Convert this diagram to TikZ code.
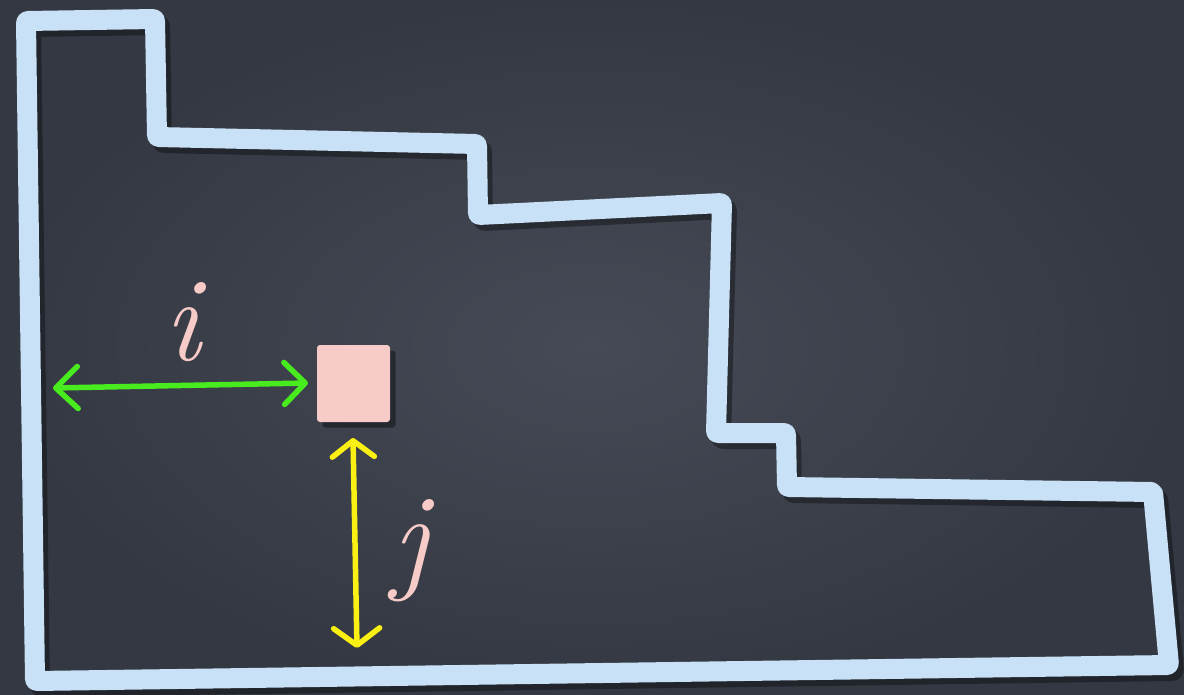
\documentclass[tikz,border=0pt]{standalone}
\usepackage{fontspec}
\usetikzlibrary{arrows.meta}
\definecolor{board}{RGB}{70,74,86}
\definecolor{boardedge}{RGB}{52,56,66}
\definecolor{chalkblue}{RGB}{200,225,246}
\definecolor{chalkgreen}{RGB}{72,236,30}
\definecolor{chalkyellow}{RGB}{250,240,20}
\definecolor{chalkpink}{RGB}{247,203,199}
\tikzset{
  wall/.style={draw=chalkblue, line width=20pt, line join=round, rounded corners=2pt},
  wallshadow/.style={draw=black, opacity=0.35, line width=20pt, line join=round, rounded corners=2pt},
  garrow/.style={draw=chalkgreen, line width=5.5pt, line cap=round,
    {Straight Barb[length=22pt, width=42pt, round]}-{Straight Barb[length=21pt, width=42pt, round]}},
  yarrow/.style={draw=chalkyellow, line width=5.5pt, line cap=round,
    {Straight Barb[length=16pt, width=42pt, round]}-{Straight Barb[length=17pt, width=46pt, round]}},
  cell/.style={draw=none, fill=chalkpink, minimum width=73pt, minimum height=77pt, inner sep=0pt, rounded corners=3pt},
  cellshadow/.style={fill=black, opacity=0.4, minimum width=73pt, minimum height=77pt, inner sep=0pt, rounded corners=3pt},
  lbl/.style={text=chalkpink, inner sep=0pt, font=\fontsize{120}{120}\selectfont\itshape},
}
\begin{document}
\begin{tikzpicture}[x=1pt,y=-1pt]
\useasboundingbox (0,0) rectangle (1184,694);
\shade[inner color=board, outer color=boardedge] (0,0) rectangle (1184,694);
% shadow of outline
\draw[wallshadow, shift={(5,6)}] (26,21) -- (155,19) -- (157,137) -- (477,144) -- (478,215) -- (722,203) -- (716,433) -- (786,433) -- (787,487) -- (1153,492) -- (1169,665) -- (35,681) -- cycle;
% outline
\draw[wall] (26,21) -- (155,19) -- (157,137) -- (477,144) -- (478,215) -- (722,203) -- (716,433) -- (786,433) -- (787,487) -- (1153,492) -- (1169,665) -- (35,681) -- cycle;
% cell
\node[cellshadow] (sqs) at (359,389) {};
\node[cell] (sq) at (353.5,383.5) {};
% coordinates for arrows
\coordinate (gL) at (53,388);
\coordinate (gR) at (308,383);
\coordinate (yT) at (353,438);
\coordinate (yB) at (357,648);
\draw[garrow] (gL) -- (gR);
\draw[yarrow] (yT) -- (yB);
% labels
\node[lbl, anchor=base] (li) at (182,360) {i};
\node[lbl, anchor=base] (lj) at (410,577) {j};
\end{tikzpicture}
\end{document}
